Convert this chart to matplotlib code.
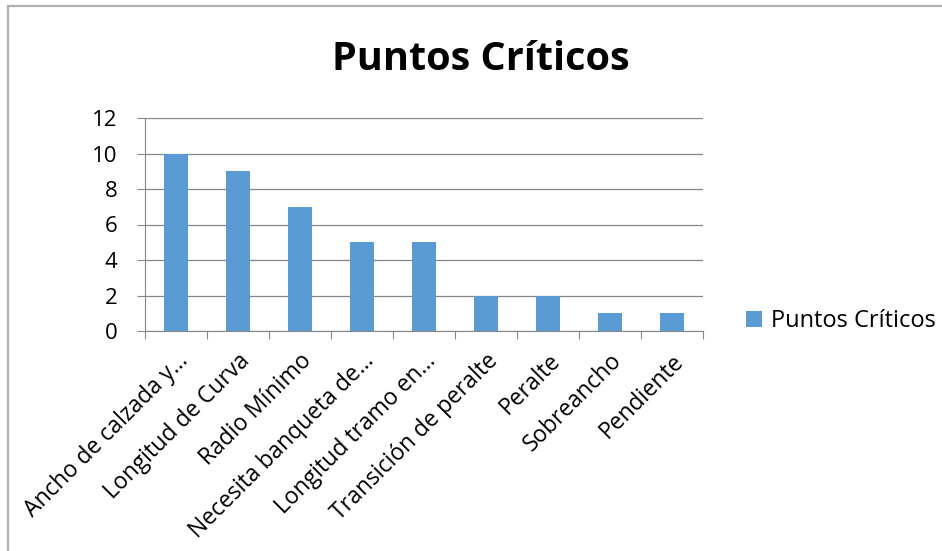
import matplotlib.pyplot as plt
from matplotlib.patches import Rectangle

categories = ["Ancho de calzada y…", "Longitud de Curva", "Radio Mínimo",
              "Necesita banqueta de…", "Longitud tramo en…",
              "Transición de peralte", "Peralte", "Sobreancho", "Pendiente"]
values = [10, 9, 7, 5, 5, 2, 2, 1, 1]
series_name = "Puntos Críticos"
yticks = [0, 2, 4, 6, 8, 10, 12]

plt.rcParams['font.family'] = ['Open Sans', 'DejaVu Sans']

W, H = 942, 551
fig = plt.figure(figsize=(W / 100, H / 100), dpi=100)

# chart area border (only top and left visible in the crop)
fig.patches.append(Rectangle((7.5 / W, -0.01), 1.2, (H - 6) / H + 0.01,
                             transform=fig.transFigure, fill=False,
                             edgecolor='#b0b0b0', linewidth=1.6))

ax = fig.add_axes([145 / W, 1 - 331 / H, (703 - 145) / W, (331 - 118) / H])
x = range(len(categories))
ax.bar(x, values, width=0.4, color='#5B9BD5', label=series_name, zorder=3)

ax.set_xlim(-0.5, len(categories) - 0.5)
ax.set_ylim(0, 12)
ax.set_yticks(yticks)
ax.set_yticklabels([str(v) for v in yticks], fontsize=16)
ax.grid(axis='y', color='#878787', linewidth=0.9, zorder=0)

for s in ['top', 'right']:
    ax.spines[s].set_visible(False)
ax.spines['left'].set_color('#878787')
ax.spines['bottom'].set_color('#878787')
ax.tick_params(axis='y', length=6, color='#878787', pad=14)

# ticks at category boundaries
ax.set_xticks([i - 0.5 for i in range(len(categories) + 1)])
ax.set_xticklabels([])
ax.tick_params(axis='x', length=6, color='#878787')
for i, c in enumerate(categories):
    ax.annotate(c, xy=(i, 0), xycoords=('data', 'axes fraction'),
                xytext=(0, -13), textcoords='offset points',
                rotation=45, rotation_mode='anchor', ha='right', va='top',
                fontsize=16.5)

fig.text(481 / W, 1 - 60 / H, "Puntos Críticos", ha='center', va='center',
         fontsize=28.5, fontweight='bold')

ax.legend(loc='center left', bbox_to_anchor=(1.06, 0.045), frameon=False,
          fontsize=17, handlelength=0.7, handleheight=0.7, handletextpad=0.35,
          borderaxespad=0)

fig.savefig('out.png', dpi=100)
